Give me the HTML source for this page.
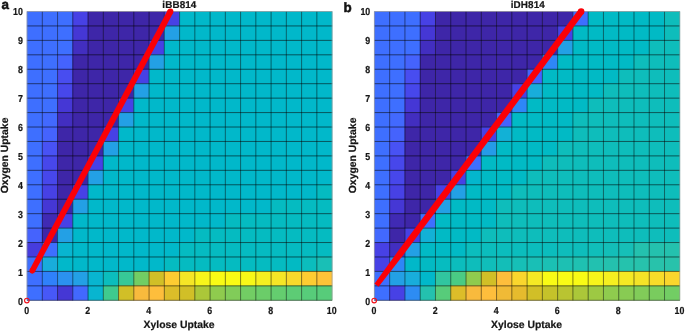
<!DOCTYPE html>
<html lang="en"><head><meta charset="utf-8"><title>Phenotype phase planes</title>
<style>html,body{margin:0;padding:0;background:#fff}body{width:685px;height:331px;overflow:hidden}svg{display:block}text{text-rendering:geometricPrecision;font-family:"Liberation Sans",Arial,sans-serif;font-weight:bold;fill:#151515;stroke:#151515;stroke-width:0.2px}</style></head><body>
<svg width="685" height="331" viewBox="0 0 685 331">
<rect width="685" height="331" fill="#fff"/>
<g>
<rect x="26.80" y="11.25" width="15.75" height="14.94" fill="#3e6fff"/>
<rect x="42.05" y="11.25" width="15.75" height="14.94" fill="#3e6fff"/>
<rect x="57.31" y="11.25" width="15.75" height="14.94" fill="#3e6fff"/>
<rect x="72.56" y="11.25" width="15.75" height="14.94" fill="#4741e5"/>
<rect x="87.81" y="11.25" width="15.75" height="14.94" fill="#3e26a8"/>
<rect x="103.06" y="11.25" width="15.75" height="14.94" fill="#3e26a8"/>
<rect x="118.32" y="11.25" width="15.75" height="14.94" fill="#3e26a8"/>
<rect x="133.57" y="11.25" width="15.75" height="14.94" fill="#3e26a8"/>
<rect x="148.82" y="11.25" width="15.75" height="14.94" fill="#3e26a8"/>
<rect x="164.07" y="11.25" width="15.75" height="14.94" fill="#4741e5"/>
<rect x="179.33" y="11.25" width="15.75" height="14.94" fill="#01b8ca"/>
<rect x="194.58" y="11.25" width="15.75" height="14.94" fill="#01b8ca"/>
<rect x="209.83" y="11.25" width="15.75" height="14.94" fill="#01b8ca"/>
<rect x="225.08" y="11.25" width="15.75" height="14.94" fill="#01b8ca"/>
<rect x="240.34" y="11.25" width="15.75" height="14.94" fill="#01b8ca"/>
<rect x="255.59" y="11.25" width="15.75" height="14.94" fill="#01b8ca"/>
<rect x="270.84" y="11.25" width="15.75" height="14.94" fill="#01b8ca"/>
<rect x="286.09" y="11.25" width="15.75" height="14.94" fill="#01b8ca"/>
<rect x="301.35" y="11.25" width="15.75" height="14.94" fill="#01b8ca"/>
<rect x="316.60" y="11.25" width="15.75" height="14.94" fill="#01b8ca"/>
<rect x="26.80" y="25.69" width="15.75" height="14.94" fill="#3e6fff"/>
<rect x="42.05" y="25.69" width="15.75" height="14.94" fill="#3e6fff"/>
<rect x="57.31" y="25.69" width="15.75" height="14.94" fill="#3e6fff"/>
<rect x="72.56" y="25.69" width="15.75" height="14.94" fill="#4537d5"/>
<rect x="87.81" y="25.69" width="15.75" height="14.94" fill="#3e26a8"/>
<rect x="103.06" y="25.69" width="15.75" height="14.94" fill="#3e26a8"/>
<rect x="118.32" y="25.69" width="15.75" height="14.94" fill="#3e26a8"/>
<rect x="133.57" y="25.69" width="15.75" height="14.94" fill="#3e26a8"/>
<rect x="148.82" y="25.69" width="15.75" height="14.94" fill="#3e26a8"/>
<rect x="164.07" y="25.69" width="15.75" height="14.94" fill="#23a0e5"/>
<rect x="179.33" y="25.69" width="15.75" height="14.94" fill="#01b8ca"/>
<rect x="194.58" y="25.69" width="15.75" height="14.94" fill="#01b8ca"/>
<rect x="209.83" y="25.69" width="15.75" height="14.94" fill="#01b8ca"/>
<rect x="225.08" y="25.69" width="15.75" height="14.94" fill="#01b8ca"/>
<rect x="240.34" y="25.69" width="15.75" height="14.94" fill="#01b8ca"/>
<rect x="255.59" y="25.69" width="15.75" height="14.94" fill="#01b8ca"/>
<rect x="270.84" y="25.69" width="15.75" height="14.94" fill="#01b8ca"/>
<rect x="286.09" y="25.69" width="15.75" height="14.94" fill="#01b8ca"/>
<rect x="301.35" y="25.69" width="15.75" height="14.94" fill="#01b8ca"/>
<rect x="316.60" y="25.69" width="15.75" height="14.94" fill="#01b8ca"/>
<rect x="26.80" y="40.13" width="15.75" height="14.94" fill="#3e6fff"/>
<rect x="42.05" y="40.13" width="15.75" height="14.94" fill="#3e6fff"/>
<rect x="57.31" y="40.13" width="15.75" height="14.94" fill="#3e6fff"/>
<rect x="72.56" y="40.13" width="15.75" height="14.94" fill="#422ec0"/>
<rect x="87.81" y="40.13" width="15.75" height="14.94" fill="#3e26a8"/>
<rect x="103.06" y="40.13" width="15.75" height="14.94" fill="#3e26a8"/>
<rect x="118.32" y="40.13" width="15.75" height="14.94" fill="#3e26a8"/>
<rect x="133.57" y="40.13" width="15.75" height="14.94" fill="#3e26a8"/>
<rect x="148.82" y="40.13" width="15.75" height="14.94" fill="#4741e5"/>
<rect x="164.07" y="40.13" width="15.75" height="14.94" fill="#01b8ca"/>
<rect x="179.33" y="40.13" width="15.75" height="14.94" fill="#01b8ca"/>
<rect x="194.58" y="40.13" width="15.75" height="14.94" fill="#01b8ca"/>
<rect x="209.83" y="40.13" width="15.75" height="14.94" fill="#01b8ca"/>
<rect x="225.08" y="40.13" width="15.75" height="14.94" fill="#01b8ca"/>
<rect x="240.34" y="40.13" width="15.75" height="14.94" fill="#01b8ca"/>
<rect x="255.59" y="40.13" width="15.75" height="14.94" fill="#01b8ca"/>
<rect x="270.84" y="40.13" width="15.75" height="14.94" fill="#01b8ca"/>
<rect x="286.09" y="40.13" width="15.75" height="14.94" fill="#01b8ca"/>
<rect x="301.35" y="40.13" width="15.75" height="14.94" fill="#01b8ca"/>
<rect x="316.60" y="40.13" width="15.75" height="14.94" fill="#01b8ca"/>
<rect x="26.80" y="54.57" width="15.75" height="14.94" fill="#3e6fff"/>
<rect x="42.05" y="54.57" width="15.75" height="14.94" fill="#3e6fff"/>
<rect x="57.31" y="54.57" width="15.75" height="14.94" fill="#4563fd"/>
<rect x="72.56" y="54.57" width="15.75" height="14.94" fill="#3e26a8"/>
<rect x="87.81" y="54.57" width="15.75" height="14.94" fill="#3e26a8"/>
<rect x="103.06" y="54.57" width="15.75" height="14.94" fill="#3e26a8"/>
<rect x="118.32" y="54.57" width="15.75" height="14.94" fill="#3e26a8"/>
<rect x="133.57" y="54.57" width="15.75" height="14.94" fill="#3e26a8"/>
<rect x="148.82" y="54.57" width="15.75" height="14.94" fill="#23a0e5"/>
<rect x="164.07" y="54.57" width="15.75" height="14.94" fill="#01b8ca"/>
<rect x="179.33" y="54.57" width="15.75" height="14.94" fill="#01b8ca"/>
<rect x="194.58" y="54.57" width="15.75" height="14.94" fill="#01b8ca"/>
<rect x="209.83" y="54.57" width="15.75" height="14.94" fill="#01b8ca"/>
<rect x="225.08" y="54.57" width="15.75" height="14.94" fill="#01b8ca"/>
<rect x="240.34" y="54.57" width="15.75" height="14.94" fill="#01b8ca"/>
<rect x="255.59" y="54.57" width="15.75" height="14.94" fill="#01b8ca"/>
<rect x="270.84" y="54.57" width="15.75" height="14.94" fill="#01b8ca"/>
<rect x="286.09" y="54.57" width="15.75" height="14.94" fill="#01b8ca"/>
<rect x="301.35" y="54.57" width="15.75" height="14.94" fill="#01b8ca"/>
<rect x="316.60" y="54.57" width="15.75" height="14.94" fill="#01b8ca"/>
<rect x="26.80" y="69.01" width="15.75" height="14.94" fill="#3e6fff"/>
<rect x="42.05" y="69.01" width="15.75" height="14.94" fill="#3e6fff"/>
<rect x="57.31" y="69.01" width="15.75" height="14.94" fill="#484df0"/>
<rect x="72.56" y="69.01" width="15.75" height="14.94" fill="#3e26a8"/>
<rect x="87.81" y="69.01" width="15.75" height="14.94" fill="#3e26a8"/>
<rect x="103.06" y="69.01" width="15.75" height="14.94" fill="#3e26a8"/>
<rect x="118.32" y="69.01" width="15.75" height="14.94" fill="#3e26a8"/>
<rect x="133.57" y="69.01" width="15.75" height="14.94" fill="#4741e5"/>
<rect x="148.82" y="69.01" width="15.75" height="14.94" fill="#01b8ca"/>
<rect x="164.07" y="69.01" width="15.75" height="14.94" fill="#01b8ca"/>
<rect x="179.33" y="69.01" width="15.75" height="14.94" fill="#01b8ca"/>
<rect x="194.58" y="69.01" width="15.75" height="14.94" fill="#01b8ca"/>
<rect x="209.83" y="69.01" width="15.75" height="14.94" fill="#01b8ca"/>
<rect x="225.08" y="69.01" width="15.75" height="14.94" fill="#01b8ca"/>
<rect x="240.34" y="69.01" width="15.75" height="14.94" fill="#01b8ca"/>
<rect x="255.59" y="69.01" width="15.75" height="14.94" fill="#01b8ca"/>
<rect x="270.84" y="69.01" width="15.75" height="14.94" fill="#01b8ca"/>
<rect x="286.09" y="69.01" width="15.75" height="14.94" fill="#01b8ca"/>
<rect x="301.35" y="69.01" width="15.75" height="14.94" fill="#01b8ca"/>
<rect x="316.60" y="69.01" width="15.75" height="14.94" fill="#01b8ca"/>
<rect x="26.80" y="83.45" width="15.75" height="14.94" fill="#3e6fff"/>
<rect x="42.05" y="83.45" width="15.75" height="14.94" fill="#3e6fff"/>
<rect x="57.31" y="83.45" width="15.75" height="14.94" fill="#4747eb"/>
<rect x="72.56" y="83.45" width="15.75" height="14.94" fill="#3e26a8"/>
<rect x="87.81" y="83.45" width="15.75" height="14.94" fill="#3e26a8"/>
<rect x="103.06" y="83.45" width="15.75" height="14.94" fill="#3e26a8"/>
<rect x="118.32" y="83.45" width="15.75" height="14.94" fill="#3e26a8"/>
<rect x="133.57" y="83.45" width="15.75" height="14.94" fill="#23a0e5"/>
<rect x="148.82" y="83.45" width="15.75" height="14.94" fill="#01b8ca"/>
<rect x="164.07" y="83.45" width="15.75" height="14.94" fill="#01b8ca"/>
<rect x="179.33" y="83.45" width="15.75" height="14.94" fill="#01b8ca"/>
<rect x="194.58" y="83.45" width="15.75" height="14.94" fill="#01b8ca"/>
<rect x="209.83" y="83.45" width="15.75" height="14.94" fill="#01b8ca"/>
<rect x="225.08" y="83.45" width="15.75" height="14.94" fill="#01b8ca"/>
<rect x="240.34" y="83.45" width="15.75" height="14.94" fill="#01b8ca"/>
<rect x="255.59" y="83.45" width="15.75" height="14.94" fill="#01b8ca"/>
<rect x="270.84" y="83.45" width="15.75" height="14.94" fill="#01b8ca"/>
<rect x="286.09" y="83.45" width="15.75" height="14.94" fill="#01b8ca"/>
<rect x="301.35" y="83.45" width="15.75" height="14.94" fill="#01b8ca"/>
<rect x="316.60" y="83.45" width="15.75" height="14.94" fill="#01b8ca"/>
<rect x="26.80" y="97.89" width="15.75" height="14.94" fill="#3e6fff"/>
<rect x="42.05" y="97.89" width="15.75" height="14.94" fill="#3e6fff"/>
<rect x="57.31" y="97.89" width="15.75" height="14.94" fill="#4537d5"/>
<rect x="72.56" y="97.89" width="15.75" height="14.94" fill="#3e26a8"/>
<rect x="87.81" y="97.89" width="15.75" height="14.94" fill="#3e26a8"/>
<rect x="103.06" y="97.89" width="15.75" height="14.94" fill="#3e26a8"/>
<rect x="118.32" y="97.89" width="15.75" height="14.94" fill="#4741e5"/>
<rect x="133.57" y="97.89" width="15.75" height="14.94" fill="#01b8ca"/>
<rect x="148.82" y="97.89" width="15.75" height="14.94" fill="#01b8ca"/>
<rect x="164.07" y="97.89" width="15.75" height="14.94" fill="#01b8ca"/>
<rect x="179.33" y="97.89" width="15.75" height="14.94" fill="#01b8ca"/>
<rect x="194.58" y="97.89" width="15.75" height="14.94" fill="#01b8ca"/>
<rect x="209.83" y="97.89" width="15.75" height="14.94" fill="#01b8ca"/>
<rect x="225.08" y="97.89" width="15.75" height="14.94" fill="#01b8ca"/>
<rect x="240.34" y="97.89" width="15.75" height="14.94" fill="#01b8ca"/>
<rect x="255.59" y="97.89" width="15.75" height="14.94" fill="#01b8ca"/>
<rect x="270.84" y="97.89" width="15.75" height="14.94" fill="#01b8ca"/>
<rect x="286.09" y="97.89" width="15.75" height="14.94" fill="#01b8ca"/>
<rect x="301.35" y="97.89" width="15.75" height="14.94" fill="#01b8ca"/>
<rect x="316.60" y="97.89" width="15.75" height="14.94" fill="#01b8ca"/>
<rect x="26.80" y="112.33" width="15.75" height="14.94" fill="#3e6fff"/>
<rect x="42.05" y="112.33" width="15.75" height="14.94" fill="#4269fe"/>
<rect x="57.31" y="112.33" width="15.75" height="14.94" fill="#422ec0"/>
<rect x="72.56" y="112.33" width="15.75" height="14.94" fill="#3e26a8"/>
<rect x="87.81" y="112.33" width="15.75" height="14.94" fill="#3e26a8"/>
<rect x="103.06" y="112.33" width="15.75" height="14.94" fill="#3e26a8"/>
<rect x="118.32" y="112.33" width="15.75" height="14.94" fill="#23a0e5"/>
<rect x="133.57" y="112.33" width="15.75" height="14.94" fill="#01b8ca"/>
<rect x="148.82" y="112.33" width="15.75" height="14.94" fill="#01b8ca"/>
<rect x="164.07" y="112.33" width="15.75" height="14.94" fill="#01b8ca"/>
<rect x="179.33" y="112.33" width="15.75" height="14.94" fill="#01b8ca"/>
<rect x="194.58" y="112.33" width="15.75" height="14.94" fill="#01b8ca"/>
<rect x="209.83" y="112.33" width="15.75" height="14.94" fill="#01b8ca"/>
<rect x="225.08" y="112.33" width="15.75" height="14.94" fill="#01b8ca"/>
<rect x="240.34" y="112.33" width="15.75" height="14.94" fill="#01b8ca"/>
<rect x="255.59" y="112.33" width="15.75" height="14.94" fill="#01b8ca"/>
<rect x="270.84" y="112.33" width="15.75" height="14.94" fill="#01b8ca"/>
<rect x="286.09" y="112.33" width="15.75" height="14.94" fill="#01b8ca"/>
<rect x="301.35" y="112.33" width="15.75" height="14.94" fill="#01b8ca"/>
<rect x="316.60" y="112.33" width="15.75" height="14.94" fill="#01b8ca"/>
<rect x="26.80" y="126.77" width="15.75" height="14.94" fill="#3e6fff"/>
<rect x="42.05" y="126.77" width="15.75" height="14.94" fill="#4563fd"/>
<rect x="57.31" y="126.77" width="15.75" height="14.94" fill="#3e26a8"/>
<rect x="72.56" y="126.77" width="15.75" height="14.94" fill="#3e26a8"/>
<rect x="87.81" y="126.77" width="15.75" height="14.94" fill="#3e26a8"/>
<rect x="103.06" y="126.77" width="15.75" height="14.94" fill="#4741e5"/>
<rect x="118.32" y="126.77" width="15.75" height="14.94" fill="#01b8ca"/>
<rect x="133.57" y="126.77" width="15.75" height="14.94" fill="#01b8ca"/>
<rect x="148.82" y="126.77" width="15.75" height="14.94" fill="#01b8ca"/>
<rect x="164.07" y="126.77" width="15.75" height="14.94" fill="#01b8ca"/>
<rect x="179.33" y="126.77" width="15.75" height="14.94" fill="#01b8ca"/>
<rect x="194.58" y="126.77" width="15.75" height="14.94" fill="#01b8ca"/>
<rect x="209.83" y="126.77" width="15.75" height="14.94" fill="#01b8ca"/>
<rect x="225.08" y="126.77" width="15.75" height="14.94" fill="#01b8ca"/>
<rect x="240.34" y="126.77" width="15.75" height="14.94" fill="#01b8ca"/>
<rect x="255.59" y="126.77" width="15.75" height="14.94" fill="#01b8ca"/>
<rect x="270.84" y="126.77" width="15.75" height="14.94" fill="#01b8ca"/>
<rect x="286.09" y="126.77" width="15.75" height="14.94" fill="#01b8ca"/>
<rect x="301.35" y="126.77" width="15.75" height="14.94" fill="#01b8ca"/>
<rect x="316.60" y="126.77" width="15.75" height="14.94" fill="#01b8ca"/>
<rect x="26.80" y="141.21" width="15.75" height="14.94" fill="#3e6fff"/>
<rect x="42.05" y="141.21" width="15.75" height="14.94" fill="#4852f4"/>
<rect x="57.31" y="141.21" width="15.75" height="14.94" fill="#3e26a8"/>
<rect x="72.56" y="141.21" width="15.75" height="14.94" fill="#3e26a8"/>
<rect x="87.81" y="141.21" width="15.75" height="14.94" fill="#3e26a8"/>
<rect x="103.06" y="141.21" width="15.75" height="14.94" fill="#23a0e5"/>
<rect x="118.32" y="141.21" width="15.75" height="14.94" fill="#01b8ca"/>
<rect x="133.57" y="141.21" width="15.75" height="14.94" fill="#01b8ca"/>
<rect x="148.82" y="141.21" width="15.75" height="14.94" fill="#01b8ca"/>
<rect x="164.07" y="141.21" width="15.75" height="14.94" fill="#01b8ca"/>
<rect x="179.33" y="141.21" width="15.75" height="14.94" fill="#01b8ca"/>
<rect x="194.58" y="141.21" width="15.75" height="14.94" fill="#01b8ca"/>
<rect x="209.83" y="141.21" width="15.75" height="14.94" fill="#01b8ca"/>
<rect x="225.08" y="141.21" width="15.75" height="14.94" fill="#01b8ca"/>
<rect x="240.34" y="141.21" width="15.75" height="14.94" fill="#01b8ca"/>
<rect x="255.59" y="141.21" width="15.75" height="14.94" fill="#01b8ca"/>
<rect x="270.84" y="141.21" width="15.75" height="14.94" fill="#01b8ca"/>
<rect x="286.09" y="141.21" width="15.75" height="14.94" fill="#01b8ca"/>
<rect x="301.35" y="141.21" width="15.75" height="14.94" fill="#01b8ca"/>
<rect x="316.60" y="141.21" width="15.75" height="14.94" fill="#01b8ca"/>
<rect x="26.80" y="155.65" width="15.75" height="14.94" fill="#3e6fff"/>
<rect x="42.05" y="155.65" width="15.75" height="14.94" fill="#4747eb"/>
<rect x="57.31" y="155.65" width="15.75" height="14.94" fill="#3e26a8"/>
<rect x="72.56" y="155.65" width="15.75" height="14.94" fill="#3e26a8"/>
<rect x="87.81" y="155.65" width="15.75" height="14.94" fill="#4741e5"/>
<rect x="103.06" y="155.65" width="15.75" height="14.94" fill="#01b8ca"/>
<rect x="118.32" y="155.65" width="15.75" height="14.94" fill="#01b8ca"/>
<rect x="133.57" y="155.65" width="15.75" height="14.94" fill="#01b8ca"/>
<rect x="148.82" y="155.65" width="15.75" height="14.94" fill="#01b8ca"/>
<rect x="164.07" y="155.65" width="15.75" height="14.94" fill="#01b8ca"/>
<rect x="179.33" y="155.65" width="15.75" height="14.94" fill="#01b8ca"/>
<rect x="194.58" y="155.65" width="15.75" height="14.94" fill="#01b8ca"/>
<rect x="209.83" y="155.65" width="15.75" height="14.94" fill="#01b8ca"/>
<rect x="225.08" y="155.65" width="15.75" height="14.94" fill="#01b8ca"/>
<rect x="240.34" y="155.65" width="15.75" height="14.94" fill="#01b8ca"/>
<rect x="255.59" y="155.65" width="15.75" height="14.94" fill="#01b8ca"/>
<rect x="270.84" y="155.65" width="15.75" height="14.94" fill="#01b8ca"/>
<rect x="286.09" y="155.65" width="15.75" height="14.94" fill="#01b8ca"/>
<rect x="301.35" y="155.65" width="15.75" height="14.94" fill="#01b8ca"/>
<rect x="316.60" y="155.65" width="15.75" height="14.94" fill="#01b8ca"/>
<rect x="26.80" y="170.09" width="15.75" height="14.94" fill="#3e6fff"/>
<rect x="42.05" y="170.09" width="15.75" height="14.94" fill="#4747eb"/>
<rect x="57.31" y="170.09" width="15.75" height="14.94" fill="#3e26a8"/>
<rect x="72.56" y="170.09" width="15.75" height="14.94" fill="#3e26a8"/>
<rect x="87.81" y="170.09" width="15.75" height="14.94" fill="#23a0e5"/>
<rect x="103.06" y="170.09" width="15.75" height="14.94" fill="#01b8ca"/>
<rect x="118.32" y="170.09" width="15.75" height="14.94" fill="#01b8ca"/>
<rect x="133.57" y="170.09" width="15.75" height="14.94" fill="#01b8ca"/>
<rect x="148.82" y="170.09" width="15.75" height="14.94" fill="#01b8ca"/>
<rect x="164.07" y="170.09" width="15.75" height="14.94" fill="#01b8ca"/>
<rect x="179.33" y="170.09" width="15.75" height="14.94" fill="#01b8ca"/>
<rect x="194.58" y="170.09" width="15.75" height="14.94" fill="#01b8ca"/>
<rect x="209.83" y="170.09" width="15.75" height="14.94" fill="#01b8ca"/>
<rect x="225.08" y="170.09" width="15.75" height="14.94" fill="#01b8ca"/>
<rect x="240.34" y="170.09" width="15.75" height="14.94" fill="#01b8ca"/>
<rect x="255.59" y="170.09" width="15.75" height="14.94" fill="#01b8ca"/>
<rect x="270.84" y="170.09" width="15.75" height="14.94" fill="#01b8ca"/>
<rect x="286.09" y="170.09" width="15.75" height="14.94" fill="#01b8ca"/>
<rect x="301.35" y="170.09" width="15.75" height="14.94" fill="#01b8ca"/>
<rect x="316.60" y="170.09" width="15.75" height="14.94" fill="#01b8ca"/>
<rect x="26.80" y="184.53" width="15.75" height="14.94" fill="#3e6fff"/>
<rect x="42.05" y="184.53" width="15.75" height="14.94" fill="#4741e5"/>
<rect x="57.31" y="184.53" width="15.75" height="14.94" fill="#3e26a8"/>
<rect x="72.56" y="184.53" width="15.75" height="14.94" fill="#4741e5"/>
<rect x="87.81" y="184.53" width="15.75" height="14.94" fill="#01b8ca"/>
<rect x="103.06" y="184.53" width="15.75" height="14.94" fill="#01b8ca"/>
<rect x="118.32" y="184.53" width="15.75" height="14.94" fill="#01b8ca"/>
<rect x="133.57" y="184.53" width="15.75" height="14.94" fill="#01b8ca"/>
<rect x="148.82" y="184.53" width="15.75" height="14.94" fill="#01b8ca"/>
<rect x="164.07" y="184.53" width="15.75" height="14.94" fill="#01b8ca"/>
<rect x="179.33" y="184.53" width="15.75" height="14.94" fill="#01b8ca"/>
<rect x="194.58" y="184.53" width="15.75" height="14.94" fill="#01b8ca"/>
<rect x="209.83" y="184.53" width="15.75" height="14.94" fill="#01b8ca"/>
<rect x="225.08" y="184.53" width="15.75" height="14.94" fill="#01b8ca"/>
<rect x="240.34" y="184.53" width="15.75" height="14.94" fill="#01b8ca"/>
<rect x="255.59" y="184.53" width="15.75" height="14.94" fill="#01b8ca"/>
<rect x="270.84" y="184.53" width="15.75" height="14.94" fill="#01b8ca"/>
<rect x="286.09" y="184.53" width="15.75" height="14.94" fill="#01b8ca"/>
<rect x="301.35" y="184.53" width="15.75" height="14.94" fill="#01b8ca"/>
<rect x="316.60" y="184.53" width="15.75" height="14.94" fill="#05bbc1"/>
<rect x="26.80" y="198.97" width="15.75" height="14.94" fill="#3e6fff"/>
<rect x="42.05" y="198.97" width="15.75" height="14.94" fill="#4537d5"/>
<rect x="57.31" y="198.97" width="15.75" height="14.94" fill="#3e26a8"/>
<rect x="72.56" y="198.97" width="15.75" height="14.94" fill="#23a0e5"/>
<rect x="87.81" y="198.97" width="15.75" height="14.94" fill="#01b8ca"/>
<rect x="103.06" y="198.97" width="15.75" height="14.94" fill="#01b8ca"/>
<rect x="118.32" y="198.97" width="15.75" height="14.94" fill="#01b8ca"/>
<rect x="133.57" y="198.97" width="15.75" height="14.94" fill="#01b8ca"/>
<rect x="148.82" y="198.97" width="15.75" height="14.94" fill="#01b8ca"/>
<rect x="164.07" y="198.97" width="15.75" height="14.94" fill="#01b8ca"/>
<rect x="179.33" y="198.97" width="15.75" height="14.94" fill="#01b8ca"/>
<rect x="194.58" y="198.97" width="15.75" height="14.94" fill="#01b8ca"/>
<rect x="209.83" y="198.97" width="15.75" height="14.94" fill="#01b8ca"/>
<rect x="225.08" y="198.97" width="15.75" height="14.94" fill="#01b8ca"/>
<rect x="240.34" y="198.97" width="15.75" height="14.94" fill="#01b8ca"/>
<rect x="255.59" y="198.97" width="15.75" height="14.94" fill="#01b8ca"/>
<rect x="270.84" y="198.97" width="15.75" height="14.94" fill="#05bbc1"/>
<rect x="286.09" y="198.97" width="15.75" height="14.94" fill="#05bbc1"/>
<rect x="301.35" y="198.97" width="15.75" height="14.94" fill="#05bbc1"/>
<rect x="316.60" y="198.97" width="15.75" height="14.94" fill="#05bbc1"/>
<rect x="26.80" y="213.41" width="15.75" height="14.94" fill="#3e6fff"/>
<rect x="42.05" y="213.41" width="15.75" height="14.94" fill="#402ab4"/>
<rect x="57.31" y="213.41" width="15.75" height="14.94" fill="#4741e5"/>
<rect x="72.56" y="213.41" width="15.75" height="14.94" fill="#01b8ca"/>
<rect x="87.81" y="213.41" width="15.75" height="14.94" fill="#01b8ca"/>
<rect x="103.06" y="213.41" width="15.75" height="14.94" fill="#01b8ca"/>
<rect x="118.32" y="213.41" width="15.75" height="14.94" fill="#01b8ca"/>
<rect x="133.57" y="213.41" width="15.75" height="14.94" fill="#01b8ca"/>
<rect x="148.82" y="213.41" width="15.75" height="14.94" fill="#01b8ca"/>
<rect x="164.07" y="213.41" width="15.75" height="14.94" fill="#01b8ca"/>
<rect x="179.33" y="213.41" width="15.75" height="14.94" fill="#01b8ca"/>
<rect x="194.58" y="213.41" width="15.75" height="14.94" fill="#01b8ca"/>
<rect x="209.83" y="213.41" width="15.75" height="14.94" fill="#01b8ca"/>
<rect x="225.08" y="213.41" width="15.75" height="14.94" fill="#05bbc1"/>
<rect x="240.34" y="213.41" width="15.75" height="14.94" fill="#05bbc1"/>
<rect x="255.59" y="213.41" width="15.75" height="14.94" fill="#05bbc1"/>
<rect x="270.84" y="213.41" width="15.75" height="14.94" fill="#05bbc1"/>
<rect x="286.09" y="213.41" width="15.75" height="14.94" fill="#05bbc1"/>
<rect x="301.35" y="213.41" width="15.75" height="14.94" fill="#05bbc1"/>
<rect x="316.60" y="213.41" width="15.75" height="14.94" fill="#05bbc1"/>
<rect x="26.80" y="227.85" width="15.75" height="14.94" fill="#4563fd"/>
<rect x="42.05" y="227.85" width="15.75" height="14.94" fill="#3e26a8"/>
<rect x="57.31" y="227.85" width="15.75" height="14.94" fill="#23a0e5"/>
<rect x="72.56" y="227.85" width="15.75" height="14.94" fill="#01b8ca"/>
<rect x="87.81" y="227.85" width="15.75" height="14.94" fill="#01b8ca"/>
<rect x="103.06" y="227.85" width="15.75" height="14.94" fill="#01b8ca"/>
<rect x="118.32" y="227.85" width="15.75" height="14.94" fill="#01b8ca"/>
<rect x="133.57" y="227.85" width="15.75" height="14.94" fill="#01b8ca"/>
<rect x="148.82" y="227.85" width="15.75" height="14.94" fill="#01b8ca"/>
<rect x="164.07" y="227.85" width="15.75" height="14.94" fill="#01b8ca"/>
<rect x="179.33" y="227.85" width="15.75" height="14.94" fill="#01b8ca"/>
<rect x="194.58" y="227.85" width="15.75" height="14.94" fill="#05bbc1"/>
<rect x="209.83" y="227.85" width="15.75" height="14.94" fill="#05bbc1"/>
<rect x="225.08" y="227.85" width="15.75" height="14.94" fill="#05bbc1"/>
<rect x="240.34" y="227.85" width="15.75" height="14.94" fill="#05bbc1"/>
<rect x="255.59" y="227.85" width="15.75" height="14.94" fill="#05bbc1"/>
<rect x="270.84" y="227.85" width="15.75" height="14.94" fill="#05bbc1"/>
<rect x="286.09" y="227.85" width="15.75" height="14.94" fill="#05bbc1"/>
<rect x="301.35" y="227.85" width="15.75" height="14.94" fill="#05bbc1"/>
<rect x="316.60" y="227.85" width="15.75" height="14.94" fill="#05bbc1"/>
<rect x="26.80" y="242.29" width="15.75" height="14.94" fill="#463cde"/>
<rect x="42.05" y="242.29" width="15.75" height="14.94" fill="#3e6fff"/>
<rect x="57.31" y="242.29" width="15.75" height="14.94" fill="#08b5d0"/>
<rect x="72.56" y="242.29" width="15.75" height="14.94" fill="#01b8ca"/>
<rect x="87.81" y="242.29" width="15.75" height="14.94" fill="#01b8ca"/>
<rect x="103.06" y="242.29" width="15.75" height="14.94" fill="#01b8ca"/>
<rect x="118.32" y="242.29" width="15.75" height="14.94" fill="#01b8ca"/>
<rect x="133.57" y="242.29" width="15.75" height="14.94" fill="#01b8ca"/>
<rect x="148.82" y="242.29" width="15.75" height="14.94" fill="#01b8ca"/>
<rect x="164.07" y="242.29" width="15.75" height="14.94" fill="#01b8ca"/>
<rect x="179.33" y="242.29" width="15.75" height="14.94" fill="#05bbc1"/>
<rect x="194.58" y="242.29" width="15.75" height="14.94" fill="#05bbc1"/>
<rect x="209.83" y="242.29" width="15.75" height="14.94" fill="#05bbc1"/>
<rect x="225.08" y="242.29" width="15.75" height="14.94" fill="#05bbc1"/>
<rect x="240.34" y="242.29" width="15.75" height="14.94" fill="#05bbc1"/>
<rect x="255.59" y="242.29" width="15.75" height="14.94" fill="#05bbc1"/>
<rect x="270.84" y="242.29" width="15.75" height="14.94" fill="#05bbc1"/>
<rect x="286.09" y="242.29" width="15.75" height="14.94" fill="#05bbc1"/>
<rect x="301.35" y="242.29" width="15.75" height="14.94" fill="#05bbc1"/>
<rect x="316.60" y="242.29" width="15.75" height="14.94" fill="#05bbc1"/>
<rect x="26.80" y="256.73" width="15.75" height="14.94" fill="#3e6fff"/>
<rect x="42.05" y="256.73" width="15.75" height="14.94" fill="#18addb"/>
<rect x="57.31" y="256.73" width="15.75" height="14.94" fill="#01b8ca"/>
<rect x="72.56" y="256.73" width="15.75" height="14.94" fill="#01b8ca"/>
<rect x="87.81" y="256.73" width="15.75" height="14.94" fill="#01b8ca"/>
<rect x="103.06" y="256.73" width="15.75" height="14.94" fill="#01b8ca"/>
<rect x="118.32" y="256.73" width="15.75" height="14.94" fill="#01b8ca"/>
<rect x="133.57" y="256.73" width="15.75" height="14.94" fill="#01b8ca"/>
<rect x="148.82" y="256.73" width="15.75" height="14.94" fill="#01b8ca"/>
<rect x="164.07" y="256.73" width="15.75" height="14.94" fill="#05bbc1"/>
<rect x="179.33" y="256.73" width="15.75" height="14.94" fill="#05bbc1"/>
<rect x="194.58" y="256.73" width="15.75" height="14.94" fill="#05bbc1"/>
<rect x="209.83" y="256.73" width="15.75" height="14.94" fill="#05bbc1"/>
<rect x="225.08" y="256.73" width="15.75" height="14.94" fill="#05bbc1"/>
<rect x="240.34" y="256.73" width="15.75" height="14.94" fill="#05bbc1"/>
<rect x="255.59" y="256.73" width="15.75" height="14.94" fill="#05bbc1"/>
<rect x="270.84" y="256.73" width="15.75" height="14.94" fill="#05bbc1"/>
<rect x="286.09" y="256.73" width="15.75" height="14.94" fill="#02bac3"/>
<rect x="301.35" y="256.73" width="15.75" height="14.94" fill="#0bbdbd"/>
<rect x="316.60" y="256.73" width="15.75" height="14.94" fill="#19bfb6"/>
<rect x="26.80" y="271.17" width="15.75" height="14.94" fill="#3e6fff"/>
<rect x="42.05" y="271.17" width="15.75" height="14.94" fill="#2f81fa"/>
<rect x="57.31" y="271.17" width="15.75" height="14.94" fill="#2b91ef"/>
<rect x="72.56" y="271.17" width="15.75" height="14.94" fill="#23a0e5"/>
<rect x="87.81" y="271.17" width="15.75" height="14.94" fill="#08b5d0"/>
<rect x="103.06" y="271.17" width="15.75" height="14.94" fill="#0bbdbd"/>
<rect x="118.32" y="271.17" width="15.75" height="14.94" fill="#37c897"/>
<rect x="133.57" y="271.17" width="15.75" height="14.94" fill="#72cd64"/>
<rect x="148.82" y="271.17" width="15.75" height="14.94" fill="#d1bf27"/>
<rect x="164.07" y="271.17" width="15.75" height="14.94" fill="#fdcc32"/>
<rect x="179.33" y="271.17" width="15.75" height="14.94" fill="#f5e626"/>
<rect x="194.58" y="271.17" width="15.75" height="14.94" fill="#f7f51b"/>
<rect x="209.83" y="271.17" width="15.75" height="14.94" fill="#f9fb15"/>
<rect x="225.08" y="271.17" width="15.75" height="14.94" fill="#f9fb15"/>
<rect x="240.34" y="271.17" width="15.75" height="14.94" fill="#f8f818"/>
<rect x="255.59" y="271.17" width="15.75" height="14.94" fill="#f6ef20"/>
<rect x="270.84" y="271.17" width="15.75" height="14.94" fill="#f5e626"/>
<rect x="286.09" y="271.17" width="15.75" height="14.94" fill="#f8d92b"/>
<rect x="301.35" y="271.17" width="15.75" height="14.94" fill="#fdcc32"/>
<rect x="316.60" y="271.17" width="15.75" height="14.94" fill="#fec338"/>
<rect x="26.80" y="285.61" width="15.75" height="14.94" fill="#3e6fff"/>
<rect x="42.05" y="285.61" width="15.75" height="14.94" fill="#4758f8"/>
<rect x="57.31" y="285.61" width="15.75" height="14.94" fill="#4537d5"/>
<rect x="72.56" y="285.61" width="15.75" height="14.94" fill="#4269fe"/>
<rect x="87.81" y="285.61" width="15.75" height="14.94" fill="#08b5d0"/>
<rect x="103.06" y="285.61" width="15.75" height="14.94" fill="#3fca8e"/>
<rect x="118.32" y="285.61" width="15.75" height="14.94" fill="#d1bf27"/>
<rect x="133.57" y="285.61" width="15.75" height="14.94" fill="#f8ba3d"/>
<rect x="148.82" y="285.61" width="15.75" height="14.94" fill="#febe3c"/>
<rect x="164.07" y="285.61" width="15.75" height="14.94" fill="#dcbd29"/>
<rect x="179.33" y="285.61" width="15.75" height="14.94" fill="#d1bf27"/>
<rect x="194.58" y="285.61" width="15.75" height="14.94" fill="#abc739"/>
<rect x="209.83" y="285.61" width="15.75" height="14.94" fill="#8fcb4e"/>
<rect x="225.08" y="285.61" width="15.75" height="14.94" fill="#81cc59"/>
<rect x="240.34" y="285.61" width="15.75" height="14.94" fill="#72cd64"/>
<rect x="255.59" y="285.61" width="15.75" height="14.94" fill="#6bcd69"/>
<rect x="270.84" y="285.61" width="15.75" height="14.94" fill="#64cd6f"/>
<rect x="286.09" y="285.61" width="15.75" height="14.94" fill="#5dcc75"/>
<rect x="301.35" y="285.61" width="15.75" height="14.94" fill="#57cc7a"/>
<rect x="316.60" y="285.61" width="15.75" height="14.94" fill="#57cc7a"/>
</g>
<path d="M42.30 11.50V300.30M57.56 11.50V300.30M72.81 11.50V300.30M88.06 11.50V300.30M103.31 11.50V300.30M118.57 11.50V300.30M133.82 11.50V300.30M149.07 11.50V300.30M164.32 11.50V300.30M179.58 11.50V300.30M194.83 11.50V300.30M210.08 11.50V300.30M225.33 11.50V300.30M240.59 11.50V300.30M255.84 11.50V300.30M271.09 11.50V300.30M286.34 11.50V300.30M301.60 11.50V300.30M316.85 11.50V300.30" stroke="#000" stroke-opacity="0.48" stroke-width="1.0" fill="none"/>
<path d="M27.05 25.94H332.10M27.05 40.38H332.10M27.05 54.82H332.10M27.05 69.26H332.10M27.05 83.70H332.10M27.05 98.14H332.10M27.05 112.58H332.10M27.05 127.02H332.10M27.05 141.46H332.10M27.05 155.90H332.10M27.05 170.34H332.10M27.05 184.78H332.10M27.05 199.22H332.10M27.05 213.66H332.10M27.05 228.10H332.10M27.05 242.54H332.10M27.05 256.98H332.10M27.05 271.42H332.10M27.05 285.86H332.10" stroke="#000" stroke-opacity="0.55" stroke-width="1.0" fill="none"/>
<path d="M27.05 300.30V11.50H332.10V300.30" stroke="#9a9a9a" stroke-width="0.7" fill="none"/>
<path d="M27.05 300.30H332.10" stroke="#111" stroke-width="0.8" fill="none" stroke-opacity="0.65"/>
<polygon points="34.71,272.16 53.69,236.95 173.07,12.91 167.78,10.09 48.40,234.13 29.76,269.53" fill="#fb0007"/>
<circle cx="170.42" cy="11.50" r="3.00" fill="#fb0007"/>
<circle cx="32.24" cy="270.84" r="2.80" fill="#fb0007"/>
<circle cx="26.85" cy="300.60" r="2.3" fill="none" stroke="#f0101a" stroke-width="1.1"/>
<text transform="translate(22.85 304.70) scale(0.94 1.08)" font-size="9.4" text-anchor="end">0</text>
<text transform="translate(22.85 275.73) scale(0.94 1.08)" font-size="9.4" text-anchor="end">1</text>
<text transform="translate(22.85 246.76) scale(0.94 1.08)" font-size="9.4" text-anchor="end">2</text>
<text transform="translate(22.85 217.79) scale(0.94 1.08)" font-size="9.4" text-anchor="end">3</text>
<text transform="translate(22.85 188.82) scale(0.94 1.08)" font-size="9.4" text-anchor="end">4</text>
<text transform="translate(22.85 159.85) scale(0.94 1.08)" font-size="9.4" text-anchor="end">5</text>
<text transform="translate(22.85 130.88) scale(0.94 1.08)" font-size="9.4" text-anchor="end">6</text>
<text transform="translate(22.85 101.91) scale(0.94 1.08)" font-size="9.4" text-anchor="end">7</text>
<text transform="translate(22.85 72.94) scale(0.94 1.08)" font-size="9.4" text-anchor="end">8</text>
<text transform="translate(22.85 43.97) scale(0.94 1.08)" font-size="9.4" text-anchor="end">9</text>
<text transform="translate(22.85 15.00) scale(0.94 1.08)" font-size="9.4" text-anchor="end">10</text>
<text transform="translate(26.65 314.2) scale(0.94 1.08)" font-size="9.4" text-anchor="middle">0</text>
<text transform="translate(87.66 314.2) scale(0.94 1.08)" font-size="9.4" text-anchor="middle">2</text>
<text transform="translate(148.67 314.2) scale(0.94 1.08)" font-size="9.4" text-anchor="middle">4</text>
<text transform="translate(209.68 314.2) scale(0.94 1.08)" font-size="9.4" text-anchor="middle">6</text>
<text transform="translate(270.69 314.2) scale(0.94 1.08)" font-size="9.4" text-anchor="middle">8</text>
<text transform="translate(331.70 314.2) scale(0.94 1.08)" font-size="9.4" text-anchor="middle">10</text>
<text x="179.08" y="327.9" font-size="10.4" text-anchor="middle">Xylose Uptake</text>
<text transform="translate(8.45 155.40) rotate(-90)" font-size="10.4" text-anchor="middle">Oxygen Uptake</text>
<text x="179.38" y="8.1" font-size="9.9" letter-spacing="0.1" text-anchor="middle">iBB814</text>
<g>
<rect x="374.15" y="11.25" width="15.77" height="14.94" fill="#3e6fff"/>
<rect x="389.42" y="11.25" width="15.77" height="14.94" fill="#3e6fff"/>
<rect x="404.69" y="11.25" width="15.77" height="14.94" fill="#3e6fff"/>
<rect x="419.96" y="11.25" width="15.77" height="14.94" fill="#4741e5"/>
<rect x="435.23" y="11.25" width="15.77" height="14.94" fill="#3e26a8"/>
<rect x="450.50" y="11.25" width="15.77" height="14.94" fill="#3e26a8"/>
<rect x="465.77" y="11.25" width="15.77" height="14.94" fill="#3e26a8"/>
<rect x="481.04" y="11.25" width="15.77" height="14.94" fill="#3e26a8"/>
<rect x="496.31" y="11.25" width="15.77" height="14.94" fill="#3e26a8"/>
<rect x="511.58" y="11.25" width="15.77" height="14.94" fill="#3e26a8"/>
<rect x="526.85" y="11.25" width="15.77" height="14.94" fill="#3e26a8"/>
<rect x="542.12" y="11.25" width="15.77" height="14.94" fill="#3e26a8"/>
<rect x="557.39" y="11.25" width="15.77" height="14.94" fill="#3e26a8"/>
<rect x="572.66" y="11.25" width="15.77" height="14.94" fill="#3e6fff"/>
<rect x="587.93" y="11.25" width="15.77" height="14.94" fill="#01bac5"/>
<rect x="603.20" y="11.25" width="15.77" height="14.94" fill="#01bac5"/>
<rect x="618.47" y="11.25" width="15.77" height="14.94" fill="#01bac5"/>
<rect x="633.74" y="11.25" width="15.77" height="14.94" fill="#01bac5"/>
<rect x="649.01" y="11.25" width="15.77" height="14.94" fill="#01bac5"/>
<rect x="664.28" y="11.25" width="15.77" height="14.94" fill="#0ebdbb"/>
<rect x="374.15" y="25.69" width="15.77" height="14.94" fill="#3e6fff"/>
<rect x="389.42" y="25.69" width="15.77" height="14.94" fill="#3e6fff"/>
<rect x="404.69" y="25.69" width="15.77" height="14.94" fill="#3e6fff"/>
<rect x="419.96" y="25.69" width="15.77" height="14.94" fill="#4537d5"/>
<rect x="435.23" y="25.69" width="15.77" height="14.94" fill="#3e26a8"/>
<rect x="450.50" y="25.69" width="15.77" height="14.94" fill="#3e26a8"/>
<rect x="465.77" y="25.69" width="15.77" height="14.94" fill="#3e26a8"/>
<rect x="481.04" y="25.69" width="15.77" height="14.94" fill="#3e26a8"/>
<rect x="496.31" y="25.69" width="15.77" height="14.94" fill="#3e26a8"/>
<rect x="511.58" y="25.69" width="15.77" height="14.94" fill="#3e26a8"/>
<rect x="526.85" y="25.69" width="15.77" height="14.94" fill="#3e26a8"/>
<rect x="542.12" y="25.69" width="15.77" height="14.94" fill="#3e26a8"/>
<rect x="557.39" y="25.69" width="15.77" height="14.94" fill="#4741e5"/>
<rect x="572.66" y="25.69" width="15.77" height="14.94" fill="#01bac5"/>
<rect x="587.93" y="25.69" width="15.77" height="14.94" fill="#01bac5"/>
<rect x="603.20" y="25.69" width="15.77" height="14.94" fill="#01bac5"/>
<rect x="618.47" y="25.69" width="15.77" height="14.94" fill="#01bac5"/>
<rect x="633.74" y="25.69" width="15.77" height="14.94" fill="#01bac5"/>
<rect x="649.01" y="25.69" width="15.77" height="14.94" fill="#01bac5"/>
<rect x="664.28" y="25.69" width="15.77" height="14.94" fill="#0ebdbb"/>
<rect x="374.15" y="40.13" width="15.77" height="14.94" fill="#3e6fff"/>
<rect x="389.42" y="40.13" width="15.77" height="14.94" fill="#3e6fff"/>
<rect x="404.69" y="40.13" width="15.77" height="14.94" fill="#3e6fff"/>
<rect x="419.96" y="40.13" width="15.77" height="14.94" fill="#422ec0"/>
<rect x="435.23" y="40.13" width="15.77" height="14.94" fill="#3e26a8"/>
<rect x="450.50" y="40.13" width="15.77" height="14.94" fill="#3e26a8"/>
<rect x="465.77" y="40.13" width="15.77" height="14.94" fill="#3e26a8"/>
<rect x="481.04" y="40.13" width="15.77" height="14.94" fill="#3e26a8"/>
<rect x="496.31" y="40.13" width="15.77" height="14.94" fill="#3e26a8"/>
<rect x="511.58" y="40.13" width="15.77" height="14.94" fill="#3e26a8"/>
<rect x="526.85" y="40.13" width="15.77" height="14.94" fill="#3e26a8"/>
<rect x="542.12" y="40.13" width="15.77" height="14.94" fill="#3e26a8"/>
<rect x="557.39" y="40.13" width="15.77" height="14.94" fill="#23a0e5"/>
<rect x="572.66" y="40.13" width="15.77" height="14.94" fill="#01bac5"/>
<rect x="587.93" y="40.13" width="15.77" height="14.94" fill="#01bac5"/>
<rect x="603.20" y="40.13" width="15.77" height="14.94" fill="#01bac5"/>
<rect x="618.47" y="40.13" width="15.77" height="14.94" fill="#01bac5"/>
<rect x="633.74" y="40.13" width="15.77" height="14.94" fill="#01bac5"/>
<rect x="649.01" y="40.13" width="15.77" height="14.94" fill="#0ebdbb"/>
<rect x="664.28" y="40.13" width="15.77" height="14.94" fill="#0ebdbb"/>
<rect x="374.15" y="54.57" width="15.77" height="14.94" fill="#3e6fff"/>
<rect x="389.42" y="54.57" width="15.77" height="14.94" fill="#3e6fff"/>
<rect x="404.69" y="54.57" width="15.77" height="14.94" fill="#4563fd"/>
<rect x="419.96" y="54.57" width="15.77" height="14.94" fill="#3e26a8"/>
<rect x="435.23" y="54.57" width="15.77" height="14.94" fill="#3e26a8"/>
<rect x="450.50" y="54.57" width="15.77" height="14.94" fill="#3e26a8"/>
<rect x="465.77" y="54.57" width="15.77" height="14.94" fill="#3e26a8"/>
<rect x="481.04" y="54.57" width="15.77" height="14.94" fill="#3e26a8"/>
<rect x="496.31" y="54.57" width="15.77" height="14.94" fill="#3e26a8"/>
<rect x="511.58" y="54.57" width="15.77" height="14.94" fill="#3e26a8"/>
<rect x="526.85" y="54.57" width="15.77" height="14.94" fill="#3e26a8"/>
<rect x="542.12" y="54.57" width="15.77" height="14.94" fill="#2e87f7"/>
<rect x="557.39" y="54.57" width="15.77" height="14.94" fill="#01bac5"/>
<rect x="572.66" y="54.57" width="15.77" height="14.94" fill="#01bac5"/>
<rect x="587.93" y="54.57" width="15.77" height="14.94" fill="#01bac5"/>
<rect x="603.20" y="54.57" width="15.77" height="14.94" fill="#01bac5"/>
<rect x="618.47" y="54.57" width="15.77" height="14.94" fill="#01bac5"/>
<rect x="633.74" y="54.57" width="15.77" height="14.94" fill="#0ebdbb"/>
<rect x="649.01" y="54.57" width="15.77" height="14.94" fill="#0ebdbb"/>
<rect x="664.28" y="54.57" width="15.77" height="14.94" fill="#0ebdbb"/>
<rect x="374.15" y="69.01" width="15.77" height="14.94" fill="#3e6fff"/>
<rect x="389.42" y="69.01" width="15.77" height="14.94" fill="#3e6fff"/>
<rect x="404.69" y="69.01" width="15.77" height="14.94" fill="#484df0"/>
<rect x="419.96" y="69.01" width="15.77" height="14.94" fill="#3e26a8"/>
<rect x="435.23" y="69.01" width="15.77" height="14.94" fill="#3e26a8"/>
<rect x="450.50" y="69.01" width="15.77" height="14.94" fill="#3e26a8"/>
<rect x="465.77" y="69.01" width="15.77" height="14.94" fill="#3e26a8"/>
<rect x="481.04" y="69.01" width="15.77" height="14.94" fill="#3e26a8"/>
<rect x="496.31" y="69.01" width="15.77" height="14.94" fill="#3e26a8"/>
<rect x="511.58" y="69.01" width="15.77" height="14.94" fill="#3e26a8"/>
<rect x="526.85" y="69.01" width="15.77" height="14.94" fill="#4563fd"/>
<rect x="542.12" y="69.01" width="15.77" height="14.94" fill="#01bac5"/>
<rect x="557.39" y="69.01" width="15.77" height="14.94" fill="#01bac5"/>
<rect x="572.66" y="69.01" width="15.77" height="14.94" fill="#01bac5"/>
<rect x="587.93" y="69.01" width="15.77" height="14.94" fill="#01bac5"/>
<rect x="603.20" y="69.01" width="15.77" height="14.94" fill="#01bac5"/>
<rect x="618.47" y="69.01" width="15.77" height="14.94" fill="#0ebdbb"/>
<rect x="633.74" y="69.01" width="15.77" height="14.94" fill="#0ebdbb"/>
<rect x="649.01" y="69.01" width="15.77" height="14.94" fill="#0ebdbb"/>
<rect x="664.28" y="69.01" width="15.77" height="14.94" fill="#0ebdbb"/>
<rect x="374.15" y="83.45" width="15.77" height="14.94" fill="#3e6fff"/>
<rect x="389.42" y="83.45" width="15.77" height="14.94" fill="#3e6fff"/>
<rect x="404.69" y="83.45" width="15.77" height="14.94" fill="#4747eb"/>
<rect x="419.96" y="83.45" width="15.77" height="14.94" fill="#3e26a8"/>
<rect x="435.23" y="83.45" width="15.77" height="14.94" fill="#3e26a8"/>
<rect x="450.50" y="83.45" width="15.77" height="14.94" fill="#3e26a8"/>
<rect x="465.77" y="83.45" width="15.77" height="14.94" fill="#3e26a8"/>
<rect x="481.04" y="83.45" width="15.77" height="14.94" fill="#3e26a8"/>
<rect x="496.31" y="83.45" width="15.77" height="14.94" fill="#3e26a8"/>
<rect x="511.58" y="83.45" width="15.77" height="14.94" fill="#4741e5"/>
<rect x="526.85" y="83.45" width="15.77" height="14.94" fill="#18addb"/>
<rect x="542.12" y="83.45" width="15.77" height="14.94" fill="#01bac5"/>
<rect x="557.39" y="83.45" width="15.77" height="14.94" fill="#01bac5"/>
<rect x="572.66" y="83.45" width="15.77" height="14.94" fill="#01bac5"/>
<rect x="587.93" y="83.45" width="15.77" height="14.94" fill="#01bac5"/>
<rect x="603.20" y="83.45" width="15.77" height="14.94" fill="#0ebdbb"/>
<rect x="618.47" y="83.45" width="15.77" height="14.94" fill="#0ebdbb"/>
<rect x="633.74" y="83.45" width="15.77" height="14.94" fill="#0ebdbb"/>
<rect x="649.01" y="83.45" width="15.77" height="14.94" fill="#0ebdbb"/>
<rect x="664.28" y="83.45" width="15.77" height="14.94" fill="#0ebdbb"/>
<rect x="374.15" y="97.89" width="15.77" height="14.94" fill="#3e6fff"/>
<rect x="389.42" y="97.89" width="15.77" height="14.94" fill="#3e6fff"/>
<rect x="404.69" y="97.89" width="15.77" height="14.94" fill="#4537d5"/>
<rect x="419.96" y="97.89" width="15.77" height="14.94" fill="#3e26a8"/>
<rect x="435.23" y="97.89" width="15.77" height="14.94" fill="#3e26a8"/>
<rect x="450.50" y="97.89" width="15.77" height="14.94" fill="#3e26a8"/>
<rect x="465.77" y="97.89" width="15.77" height="14.94" fill="#3e26a8"/>
<rect x="481.04" y="97.89" width="15.77" height="14.94" fill="#3e26a8"/>
<rect x="496.31" y="97.89" width="15.77" height="14.94" fill="#3e26a8"/>
<rect x="511.58" y="97.89" width="15.77" height="14.94" fill="#2e87f7"/>
<rect x="526.85" y="97.89" width="15.77" height="14.94" fill="#01bac5"/>
<rect x="542.12" y="97.89" width="15.77" height="14.94" fill="#01bac5"/>
<rect x="557.39" y="97.89" width="15.77" height="14.94" fill="#01bac5"/>
<rect x="572.66" y="97.89" width="15.77" height="14.94" fill="#01bac5"/>
<rect x="587.93" y="97.89" width="15.77" height="14.94" fill="#0ebdbb"/>
<rect x="603.20" y="97.89" width="15.77" height="14.94" fill="#0ebdbb"/>
<rect x="618.47" y="97.89" width="15.77" height="14.94" fill="#0ebdbb"/>
<rect x="633.74" y="97.89" width="15.77" height="14.94" fill="#0ebdbb"/>
<rect x="649.01" y="97.89" width="15.77" height="14.94" fill="#0ebdbb"/>
<rect x="664.28" y="97.89" width="15.77" height="14.94" fill="#0ebdbb"/>
<rect x="374.15" y="112.33" width="15.77" height="14.94" fill="#3e6fff"/>
<rect x="389.42" y="112.33" width="15.77" height="14.94" fill="#4269fe"/>
<rect x="404.69" y="112.33" width="15.77" height="14.94" fill="#422ec0"/>
<rect x="419.96" y="112.33" width="15.77" height="14.94" fill="#3e26a8"/>
<rect x="435.23" y="112.33" width="15.77" height="14.94" fill="#3e26a8"/>
<rect x="450.50" y="112.33" width="15.77" height="14.94" fill="#3e26a8"/>
<rect x="465.77" y="112.33" width="15.77" height="14.94" fill="#3e26a8"/>
<rect x="481.04" y="112.33" width="15.77" height="14.94" fill="#3e26a8"/>
<rect x="496.31" y="112.33" width="15.77" height="14.94" fill="#4563fd"/>
<rect x="511.58" y="112.33" width="15.77" height="14.94" fill="#01bac5"/>
<rect x="526.85" y="112.33" width="15.77" height="14.94" fill="#01bac5"/>
<rect x="542.12" y="112.33" width="15.77" height="14.94" fill="#01bac5"/>
<rect x="557.39" y="112.33" width="15.77" height="14.94" fill="#01bac5"/>
<rect x="572.66" y="112.33" width="15.77" height="14.94" fill="#0ebdbb"/>
<rect x="587.93" y="112.33" width="15.77" height="14.94" fill="#0ebdbb"/>
<rect x="603.20" y="112.33" width="15.77" height="14.94" fill="#0ebdbb"/>
<rect x="618.47" y="112.33" width="15.77" height="14.94" fill="#0ebdbb"/>
<rect x="633.74" y="112.33" width="15.77" height="14.94" fill="#0ebdbb"/>
<rect x="649.01" y="112.33" width="15.77" height="14.94" fill="#0ebdbb"/>
<rect x="664.28" y="112.33" width="15.77" height="14.94" fill="#0ebdbb"/>
<rect x="374.15" y="126.77" width="15.77" height="14.94" fill="#3e6fff"/>
<rect x="389.42" y="126.77" width="15.77" height="14.94" fill="#4563fd"/>
<rect x="404.69" y="126.77" width="15.77" height="14.94" fill="#3e26a8"/>
<rect x="419.96" y="126.77" width="15.77" height="14.94" fill="#3e26a8"/>
<rect x="435.23" y="126.77" width="15.77" height="14.94" fill="#3e26a8"/>
<rect x="450.50" y="126.77" width="15.77" height="14.94" fill="#3e26a8"/>
<rect x="465.77" y="126.77" width="15.77" height="14.94" fill="#3e26a8"/>
<rect x="481.04" y="126.77" width="15.77" height="14.94" fill="#4741e5"/>
<rect x="496.31" y="126.77" width="15.77" height="14.94" fill="#12b1d6"/>
<rect x="511.58" y="126.77" width="15.77" height="14.94" fill="#01bac5"/>
<rect x="526.85" y="126.77" width="15.77" height="14.94" fill="#01bac5"/>
<rect x="542.12" y="126.77" width="15.77" height="14.94" fill="#01bac5"/>
<rect x="557.39" y="126.77" width="15.77" height="14.94" fill="#01bac5"/>
<rect x="572.66" y="126.77" width="15.77" height="14.94" fill="#0ebdbb"/>
<rect x="587.93" y="126.77" width="15.77" height="14.94" fill="#0ebdbb"/>
<rect x="603.20" y="126.77" width="15.77" height="14.94" fill="#0ebdbb"/>
<rect x="618.47" y="126.77" width="15.77" height="14.94" fill="#0ebdbb"/>
<rect x="633.74" y="126.77" width="15.77" height="14.94" fill="#0ebdbb"/>
<rect x="649.01" y="126.77" width="15.77" height="14.94" fill="#0ebdbb"/>
<rect x="664.28" y="126.77" width="15.77" height="14.94" fill="#0ebdbb"/>
<rect x="374.15" y="141.21" width="15.77" height="14.94" fill="#3e6fff"/>
<rect x="389.42" y="141.21" width="15.77" height="14.94" fill="#4852f4"/>
<rect x="404.69" y="141.21" width="15.77" height="14.94" fill="#3e26a8"/>
<rect x="419.96" y="141.21" width="15.77" height="14.94" fill="#3e26a8"/>
<rect x="435.23" y="141.21" width="15.77" height="14.94" fill="#3e26a8"/>
<rect x="450.50" y="141.21" width="15.77" height="14.94" fill="#3e26a8"/>
<rect x="465.77" y="141.21" width="15.77" height="14.94" fill="#3e26a8"/>
<rect x="481.04" y="141.21" width="15.77" height="14.94" fill="#259be8"/>
<rect x="496.31" y="141.21" width="15.77" height="14.94" fill="#01bac5"/>
<rect x="511.58" y="141.21" width="15.77" height="14.94" fill="#01bac5"/>
<rect x="526.85" y="141.21" width="15.77" height="14.94" fill="#01bac5"/>
<rect x="542.12" y="141.21" width="15.77" height="14.94" fill="#01bac5"/>
<rect x="557.39" y="141.21" width="15.77" height="14.94" fill="#0ebdbb"/>
<rect x="572.66" y="141.21" width="15.77" height="14.94" fill="#0ebdbb"/>
<rect x="587.93" y="141.21" width="15.77" height="14.94" fill="#0ebdbb"/>
<rect x="603.20" y="141.21" width="15.77" height="14.94" fill="#0ebdbb"/>
<rect x="618.47" y="141.21" width="15.77" height="14.94" fill="#0ebdbb"/>
<rect x="633.74" y="141.21" width="15.77" height="14.94" fill="#0ebdbb"/>
<rect x="649.01" y="141.21" width="15.77" height="14.94" fill="#0ebdbb"/>
<rect x="664.28" y="141.21" width="15.77" height="14.94" fill="#0ebdbb"/>
<rect x="374.15" y="155.65" width="15.77" height="14.94" fill="#3e6fff"/>
<rect x="389.42" y="155.65" width="15.77" height="14.94" fill="#4747eb"/>
<rect x="404.69" y="155.65" width="15.77" height="14.94" fill="#3e26a8"/>
<rect x="419.96" y="155.65" width="15.77" height="14.94" fill="#3e26a8"/>
<rect x="435.23" y="155.65" width="15.77" height="14.94" fill="#3e26a8"/>
<rect x="450.50" y="155.65" width="15.77" height="14.94" fill="#3e26a8"/>
<rect x="465.77" y="155.65" width="15.77" height="14.94" fill="#3e6fff"/>
<rect x="481.04" y="155.65" width="15.77" height="14.94" fill="#01bac5"/>
<rect x="496.31" y="155.65" width="15.77" height="14.94" fill="#01bac5"/>
<rect x="511.58" y="155.65" width="15.77" height="14.94" fill="#01bac5"/>
<rect x="526.85" y="155.65" width="15.77" height="14.94" fill="#01bac5"/>
<rect x="542.12" y="155.65" width="15.77" height="14.94" fill="#0ebdbb"/>
<rect x="557.39" y="155.65" width="15.77" height="14.94" fill="#0ebdbb"/>
<rect x="572.66" y="155.65" width="15.77" height="14.94" fill="#0ebdbb"/>
<rect x="587.93" y="155.65" width="15.77" height="14.94" fill="#0ebdbb"/>
<rect x="603.20" y="155.65" width="15.77" height="14.94" fill="#0ebdbb"/>
<rect x="618.47" y="155.65" width="15.77" height="14.94" fill="#0ebdbb"/>
<rect x="633.74" y="155.65" width="15.77" height="14.94" fill="#0ebdbb"/>
<rect x="649.01" y="155.65" width="15.77" height="14.94" fill="#0ebdbb"/>
<rect x="664.28" y="155.65" width="15.77" height="14.94" fill="#0ebdbb"/>
<rect x="374.15" y="170.09" width="15.77" height="14.94" fill="#3e6fff"/>
<rect x="389.42" y="170.09" width="15.77" height="14.94" fill="#4747eb"/>
<rect x="404.69" y="170.09" width="15.77" height="14.94" fill="#3e26a8"/>
<rect x="419.96" y="170.09" width="15.77" height="14.94" fill="#3e26a8"/>
<rect x="435.23" y="170.09" width="15.77" height="14.94" fill="#3e26a8"/>
<rect x="450.50" y="170.09" width="15.77" height="14.94" fill="#4741e5"/>
<rect x="465.77" y="170.09" width="15.77" height="14.94" fill="#04b6cd"/>
<rect x="481.04" y="170.09" width="15.77" height="14.94" fill="#01bac5"/>
<rect x="496.31" y="170.09" width="15.77" height="14.94" fill="#01bac5"/>
<rect x="511.58" y="170.09" width="15.77" height="14.94" fill="#01bac5"/>
<rect x="526.85" y="170.09" width="15.77" height="14.94" fill="#0ebdbb"/>
<rect x="542.12" y="170.09" width="15.77" height="14.94" fill="#0ebdbb"/>
<rect x="557.39" y="170.09" width="15.77" height="14.94" fill="#0ebdbb"/>
<rect x="572.66" y="170.09" width="15.77" height="14.94" fill="#0ebdbb"/>
<rect x="587.93" y="170.09" width="15.77" height="14.94" fill="#0ebdbb"/>
<rect x="603.20" y="170.09" width="15.77" height="14.94" fill="#0ebdbb"/>
<rect x="618.47" y="170.09" width="15.77" height="14.94" fill="#0ebdbb"/>
<rect x="633.74" y="170.09" width="15.77" height="14.94" fill="#0ebdbb"/>
<rect x="649.01" y="170.09" width="15.77" height="14.94" fill="#0ebdbb"/>
<rect x="664.28" y="170.09" width="15.77" height="14.94" fill="#0ebdbb"/>
<rect x="374.15" y="184.53" width="15.77" height="14.94" fill="#3e6fff"/>
<rect x="389.42" y="184.53" width="15.77" height="14.94" fill="#4741e5"/>
<rect x="404.69" y="184.53" width="15.77" height="14.94" fill="#3e26a8"/>
<rect x="419.96" y="184.53" width="15.77" height="14.94" fill="#3e26a8"/>
<rect x="435.23" y="184.53" width="15.77" height="14.94" fill="#4741e5"/>
<rect x="450.50" y="184.53" width="15.77" height="14.94" fill="#23a0e5"/>
<rect x="465.77" y="184.53" width="15.77" height="14.94" fill="#01bac5"/>
<rect x="481.04" y="184.53" width="15.77" height="14.94" fill="#01bac5"/>
<rect x="496.31" y="184.53" width="15.77" height="14.94" fill="#01bac5"/>
<rect x="511.58" y="184.53" width="15.77" height="14.94" fill="#0ebdbb"/>
<rect x="526.85" y="184.53" width="15.77" height="14.94" fill="#0ebdbb"/>
<rect x="542.12" y="184.53" width="15.77" height="14.94" fill="#0ebdbb"/>
<rect x="557.39" y="184.53" width="15.77" height="14.94" fill="#0ebdbb"/>
<rect x="572.66" y="184.53" width="15.77" height="14.94" fill="#0ebdbb"/>
<rect x="587.93" y="184.53" width="15.77" height="14.94" fill="#0ebdbb"/>
<rect x="603.20" y="184.53" width="15.77" height="14.94" fill="#0ebdbb"/>
<rect x="618.47" y="184.53" width="15.77" height="14.94" fill="#0ebdbb"/>
<rect x="633.74" y="184.53" width="15.77" height="14.94" fill="#0ebdbb"/>
<rect x="649.01" y="184.53" width="15.77" height="14.94" fill="#0ebdbb"/>
<rect x="664.28" y="184.53" width="15.77" height="14.94" fill="#0ebdbb"/>
<rect x="374.15" y="198.97" width="15.77" height="14.94" fill="#3e6fff"/>
<rect x="389.42" y="198.97" width="15.77" height="14.94" fill="#4537d5"/>
<rect x="404.69" y="198.97" width="15.77" height="14.94" fill="#3e26a8"/>
<rect x="419.96" y="198.97" width="15.77" height="14.94" fill="#3e26a8"/>
<rect x="435.23" y="198.97" width="15.77" height="14.94" fill="#23a0e5"/>
<rect x="450.50" y="198.97" width="15.77" height="14.94" fill="#01bac5"/>
<rect x="465.77" y="198.97" width="15.77" height="14.94" fill="#01bac5"/>
<rect x="481.04" y="198.97" width="15.77" height="14.94" fill="#01bac5"/>
<rect x="496.31" y="198.97" width="15.77" height="14.94" fill="#0ebdbb"/>
<rect x="511.58" y="198.97" width="15.77" height="14.94" fill="#0ebdbb"/>
<rect x="526.85" y="198.97" width="15.77" height="14.94" fill="#0ebdbb"/>
<rect x="542.12" y="198.97" width="15.77" height="14.94" fill="#0ebdbb"/>
<rect x="557.39" y="198.97" width="15.77" height="14.94" fill="#0ebdbb"/>
<rect x="572.66" y="198.97" width="15.77" height="14.94" fill="#0ebdbb"/>
<rect x="587.93" y="198.97" width="15.77" height="14.94" fill="#0ebdbb"/>
<rect x="603.20" y="198.97" width="15.77" height="14.94" fill="#0ebdbb"/>
<rect x="618.47" y="198.97" width="15.77" height="14.94" fill="#0ebdbb"/>
<rect x="633.74" y="198.97" width="15.77" height="14.94" fill="#0ebdbb"/>
<rect x="649.01" y="198.97" width="15.77" height="14.94" fill="#0ebdbb"/>
<rect x="664.28" y="198.97" width="15.77" height="14.94" fill="#0ebdbb"/>
<rect x="374.15" y="213.41" width="15.77" height="14.94" fill="#3e6fff"/>
<rect x="389.42" y="213.41" width="15.77" height="14.94" fill="#402ab4"/>
<rect x="404.69" y="213.41" width="15.77" height="14.94" fill="#3e26a8"/>
<rect x="419.96" y="213.41" width="15.77" height="14.94" fill="#3e6fff"/>
<rect x="435.23" y="213.41" width="15.77" height="14.94" fill="#01bac5"/>
<rect x="450.50" y="213.41" width="15.77" height="14.94" fill="#01bac5"/>
<rect x="465.77" y="213.41" width="15.77" height="14.94" fill="#01bac5"/>
<rect x="481.04" y="213.41" width="15.77" height="14.94" fill="#01bac5"/>
<rect x="496.31" y="213.41" width="15.77" height="14.94" fill="#0ebdbb"/>
<rect x="511.58" y="213.41" width="15.77" height="14.94" fill="#0ebdbb"/>
<rect x="526.85" y="213.41" width="15.77" height="14.94" fill="#0ebdbb"/>
<rect x="542.12" y="213.41" width="15.77" height="14.94" fill="#0ebdbb"/>
<rect x="557.39" y="213.41" width="15.77" height="14.94" fill="#0ebdbb"/>
<rect x="572.66" y="213.41" width="15.77" height="14.94" fill="#0ebdbb"/>
<rect x="587.93" y="213.41" width="15.77" height="14.94" fill="#0ebdbb"/>
<rect x="603.20" y="213.41" width="15.77" height="14.94" fill="#0ebdbb"/>
<rect x="618.47" y="213.41" width="15.77" height="14.94" fill="#0ebdbb"/>
<rect x="633.74" y="213.41" width="15.77" height="14.94" fill="#0ebdbb"/>
<rect x="649.01" y="213.41" width="15.77" height="14.94" fill="#0ebdbb"/>
<rect x="664.28" y="213.41" width="15.77" height="14.94" fill="#0ebdbb"/>
<rect x="374.15" y="227.85" width="15.77" height="14.94" fill="#4269fe"/>
<rect x="389.42" y="227.85" width="15.77" height="14.94" fill="#3e26a8"/>
<rect x="404.69" y="227.85" width="15.77" height="14.94" fill="#4741e5"/>
<rect x="419.96" y="227.85" width="15.77" height="14.94" fill="#12b1d6"/>
<rect x="435.23" y="227.85" width="15.77" height="14.94" fill="#01bac5"/>
<rect x="450.50" y="227.85" width="15.77" height="14.94" fill="#01bac5"/>
<rect x="465.77" y="227.85" width="15.77" height="14.94" fill="#01bac5"/>
<rect x="481.04" y="227.85" width="15.77" height="14.94" fill="#0ebdbb"/>
<rect x="496.31" y="227.85" width="15.77" height="14.94" fill="#0ebdbb"/>
<rect x="511.58" y="227.85" width="15.77" height="14.94" fill="#0ebdbb"/>
<rect x="526.85" y="227.85" width="15.77" height="14.94" fill="#0ebdbb"/>
<rect x="542.12" y="227.85" width="15.77" height="14.94" fill="#0ebdbb"/>
<rect x="557.39" y="227.85" width="15.77" height="14.94" fill="#0ebdbb"/>
<rect x="572.66" y="227.85" width="15.77" height="14.94" fill="#0ebdbb"/>
<rect x="587.93" y="227.85" width="15.77" height="14.94" fill="#0ebdbb"/>
<rect x="603.20" y="227.85" width="15.77" height="14.94" fill="#0ebdbb"/>
<rect x="618.47" y="227.85" width="15.77" height="14.94" fill="#0ebdbb"/>
<rect x="633.74" y="227.85" width="15.77" height="14.94" fill="#0ebdbb"/>
<rect x="649.01" y="227.85" width="15.77" height="14.94" fill="#0ebdbb"/>
<rect x="664.28" y="227.85" width="15.77" height="14.94" fill="#0ebdbb"/>
<rect x="374.15" y="242.29" width="15.77" height="14.94" fill="#4741e5"/>
<rect x="389.42" y="242.29" width="15.77" height="14.94" fill="#422ec0"/>
<rect x="404.69" y="242.29" width="15.77" height="14.94" fill="#23a0e5"/>
<rect x="419.96" y="242.29" width="15.77" height="14.94" fill="#01bac5"/>
<rect x="435.23" y="242.29" width="15.77" height="14.94" fill="#01bac5"/>
<rect x="450.50" y="242.29" width="15.77" height="14.94" fill="#01bac5"/>
<rect x="465.77" y="242.29" width="15.77" height="14.94" fill="#0bbdbd"/>
<rect x="481.04" y="242.29" width="15.77" height="14.94" fill="#0bbdbd"/>
<rect x="496.31" y="242.29" width="15.77" height="14.94" fill="#0bbdbd"/>
<rect x="511.58" y="242.29" width="15.77" height="14.94" fill="#0bbdbd"/>
<rect x="526.85" y="242.29" width="15.77" height="14.94" fill="#0bbdbd"/>
<rect x="542.12" y="242.29" width="15.77" height="14.94" fill="#0bbdbd"/>
<rect x="557.39" y="242.29" width="15.77" height="14.94" fill="#0ebdbb"/>
<rect x="572.66" y="242.29" width="15.77" height="14.94" fill="#0ebdbb"/>
<rect x="587.93" y="242.29" width="15.77" height="14.94" fill="#10beba"/>
<rect x="603.20" y="242.29" width="15.77" height="14.94" fill="#13beb8"/>
<rect x="618.47" y="242.29" width="15.77" height="14.94" fill="#16bfb7"/>
<rect x="633.74" y="242.29" width="15.77" height="14.94" fill="#24c1ae"/>
<rect x="649.01" y="242.29" width="15.77" height="14.94" fill="#24c1ae"/>
<rect x="664.28" y="242.29" width="15.77" height="14.94" fill="#24c1ae"/>
<rect x="374.15" y="256.73" width="15.77" height="14.94" fill="#4741e5"/>
<rect x="389.42" y="256.73" width="15.77" height="14.94" fill="#2e87f7"/>
<rect x="404.69" y="256.73" width="15.77" height="14.94" fill="#01b8c9"/>
<rect x="419.96" y="256.73" width="15.77" height="14.94" fill="#02bac3"/>
<rect x="435.23" y="256.73" width="15.77" height="14.94" fill="#06bcc0"/>
<rect x="450.50" y="256.73" width="15.77" height="14.94" fill="#0bbdbd"/>
<rect x="465.77" y="256.73" width="15.77" height="14.94" fill="#0ebdbb"/>
<rect x="481.04" y="256.73" width="15.77" height="14.94" fill="#10beba"/>
<rect x="496.31" y="256.73" width="15.77" height="14.94" fill="#13beb8"/>
<rect x="511.58" y="256.73" width="15.77" height="14.94" fill="#16bfb7"/>
<rect x="526.85" y="256.73" width="15.77" height="14.94" fill="#19bfb6"/>
<rect x="542.12" y="256.73" width="15.77" height="14.94" fill="#1bc0b4"/>
<rect x="557.39" y="256.73" width="15.77" height="14.94" fill="#1dc0b3"/>
<rect x="572.66" y="256.73" width="15.77" height="14.94" fill="#1fc1b1"/>
<rect x="587.93" y="256.73" width="15.77" height="14.94" fill="#22c1b0"/>
<rect x="603.20" y="256.73" width="15.77" height="14.94" fill="#24c1ae"/>
<rect x="618.47" y="256.73" width="15.77" height="14.94" fill="#25c2ad"/>
<rect x="633.74" y="256.73" width="15.77" height="14.94" fill="#27c2ac"/>
<rect x="649.01" y="256.73" width="15.77" height="14.94" fill="#28c2ab"/>
<rect x="664.28" y="256.73" width="15.77" height="14.94" fill="#28c2ab"/>
<rect x="374.15" y="271.17" width="15.77" height="14.94" fill="#3e6fff"/>
<rect x="389.42" y="271.17" width="15.77" height="14.94" fill="#23a0e5"/>
<rect x="404.69" y="271.17" width="15.77" height="14.94" fill="#18addb"/>
<rect x="419.96" y="271.17" width="15.77" height="14.94" fill="#01b8ca"/>
<rect x="435.23" y="271.17" width="15.77" height="14.94" fill="#31c69f"/>
<rect x="450.50" y="271.17" width="15.77" height="14.94" fill="#4acb84"/>
<rect x="465.77" y="271.17" width="15.77" height="14.94" fill="#8fcb4e"/>
<rect x="481.04" y="271.17" width="15.77" height="14.94" fill="#d1bf27"/>
<rect x="496.31" y="271.17" width="15.77" height="14.94" fill="#febe3c"/>
<rect x="511.58" y="271.17" width="15.77" height="14.94" fill="#fad62d"/>
<rect x="526.85" y="271.17" width="15.77" height="14.94" fill="#f5e924"/>
<rect x="542.12" y="271.17" width="15.77" height="14.94" fill="#f9fb15"/>
<rect x="557.39" y="271.17" width="15.77" height="14.94" fill="#f9fb15"/>
<rect x="572.66" y="271.17" width="15.77" height="14.94" fill="#f9fb15"/>
<rect x="587.93" y="271.17" width="15.77" height="14.94" fill="#f7f51b"/>
<rect x="603.20" y="271.17" width="15.77" height="14.94" fill="#f6ef20"/>
<rect x="618.47" y="271.17" width="15.77" height="14.94" fill="#f5e924"/>
<rect x="633.74" y="271.17" width="15.77" height="14.94" fill="#f5e327"/>
<rect x="649.01" y="271.17" width="15.77" height="14.94" fill="#f7dc2a"/>
<rect x="664.28" y="271.17" width="15.77" height="14.94" fill="#fad62d"/>
<rect x="374.15" y="285.61" width="15.77" height="14.94" fill="#3e6fff"/>
<rect x="389.42" y="285.61" width="15.77" height="14.94" fill="#4741e5"/>
<rect x="404.69" y="285.61" width="15.77" height="14.94" fill="#2d8cf3"/>
<rect x="419.96" y="285.61" width="15.77" height="14.94" fill="#24c1ae"/>
<rect x="435.23" y="285.61" width="15.77" height="14.94" fill="#57cc7a"/>
<rect x="450.50" y="285.61" width="15.77" height="14.94" fill="#dcbd29"/>
<rect x="465.77" y="285.61" width="15.77" height="14.94" fill="#f8ba3d"/>
<rect x="481.04" y="285.61" width="15.77" height="14.94" fill="#febe3c"/>
<rect x="496.31" y="285.61" width="15.77" height="14.94" fill="#f0ba36"/>
<rect x="511.58" y="285.61" width="15.77" height="14.94" fill="#e6bb2d"/>
<rect x="526.85" y="285.61" width="15.77" height="14.94" fill="#d1bf27"/>
<rect x="542.12" y="285.61" width="15.77" height="14.94" fill="#c5c22a"/>
<rect x="557.39" y="285.61" width="15.77" height="14.94" fill="#b9c431"/>
<rect x="572.66" y="285.61" width="15.77" height="14.94" fill="#abc739"/>
<rect x="587.93" y="285.61" width="15.77" height="14.94" fill="#9dc943"/>
<rect x="603.20" y="285.61" width="15.77" height="14.94" fill="#8fcb4e"/>
<rect x="618.47" y="285.61" width="15.77" height="14.94" fill="#88cb53"/>
<rect x="633.74" y="285.61" width="15.77" height="14.94" fill="#81cc59"/>
<rect x="649.01" y="285.61" width="15.77" height="14.94" fill="#79cc5e"/>
<rect x="664.28" y="285.61" width="15.77" height="14.94" fill="#72cd64"/>
</g>
<path d="M389.67 11.50V300.30M404.94 11.50V300.30M420.21 11.50V300.30M435.48 11.50V300.30M450.75 11.50V300.30M466.02 11.50V300.30M481.29 11.50V300.30M496.56 11.50V300.30M511.83 11.50V300.30M527.10 11.50V300.30M542.37 11.50V300.30M557.64 11.50V300.30M572.91 11.50V300.30M588.18 11.50V300.30M603.45 11.50V300.30M618.72 11.50V300.30M633.99 11.50V300.30M649.26 11.50V300.30M664.53 11.50V300.30" stroke="#000" stroke-opacity="0.48" stroke-width="1.0" fill="none"/>
<path d="M374.40 25.94H679.80M374.40 40.38H679.80M374.40 54.82H679.80M374.40 69.26H679.80M374.40 83.70H679.80M374.40 98.14H679.80M374.40 112.58H679.80M374.40 127.02H679.80M374.40 141.46H679.80M374.40 155.90H679.80M374.40 170.34H679.80M374.40 184.78H679.80M374.40 199.22H679.80M374.40 213.66H679.80M374.40 228.10H679.80M374.40 242.54H679.80M374.40 256.98H679.80M374.40 271.42H679.80M374.40 285.86H679.80" stroke="#000" stroke-opacity="0.55" stroke-width="1.0" fill="none"/>
<path d="M374.40 300.30V11.50H679.80V300.30" stroke="#9a9a9a" stroke-width="0.7" fill="none"/>
<path d="M374.40 300.30H679.80" stroke="#111" stroke-width="0.8" fill="none" stroke-opacity="0.65"/>
<polygon points="378.62,286.84 403.09,255.19 583.76,13.45 578.55,9.55 397.88,251.30 374.46,283.73" fill="#fb0007"/>
<circle cx="581.16" cy="11.50" r="3.25" fill="#fb0007"/>
<circle cx="374.20" cy="300.60" r="2.3" fill="none" stroke="#f0101a" stroke-width="1.1"/>
<text transform="translate(370.20 304.70) scale(0.94 1.08)" font-size="9.4" text-anchor="end">0</text>
<text transform="translate(370.20 275.73) scale(0.94 1.08)" font-size="9.4" text-anchor="end">1</text>
<text transform="translate(370.20 246.76) scale(0.94 1.08)" font-size="9.4" text-anchor="end">2</text>
<text transform="translate(370.20 217.79) scale(0.94 1.08)" font-size="9.4" text-anchor="end">3</text>
<text transform="translate(370.20 188.82) scale(0.94 1.08)" font-size="9.4" text-anchor="end">4</text>
<text transform="translate(370.20 159.85) scale(0.94 1.08)" font-size="9.4" text-anchor="end">5</text>
<text transform="translate(370.20 130.88) scale(0.94 1.08)" font-size="9.4" text-anchor="end">6</text>
<text transform="translate(370.20 101.91) scale(0.94 1.08)" font-size="9.4" text-anchor="end">7</text>
<text transform="translate(370.20 72.94) scale(0.94 1.08)" font-size="9.4" text-anchor="end">8</text>
<text transform="translate(370.20 43.97) scale(0.94 1.08)" font-size="9.4" text-anchor="end">9</text>
<text transform="translate(370.20 15.00) scale(0.94 1.08)" font-size="9.4" text-anchor="end">10</text>
<text transform="translate(374.00 314.2) scale(0.94 1.08)" font-size="9.4" text-anchor="middle">0</text>
<text transform="translate(435.08 314.2) scale(0.94 1.08)" font-size="9.4" text-anchor="middle">2</text>
<text transform="translate(496.16 314.2) scale(0.94 1.08)" font-size="9.4" text-anchor="middle">4</text>
<text transform="translate(557.24 314.2) scale(0.94 1.08)" font-size="9.4" text-anchor="middle">6</text>
<text transform="translate(618.32 314.2) scale(0.94 1.08)" font-size="9.4" text-anchor="middle">8</text>
<text transform="translate(679.40 314.2) scale(0.94 1.08)" font-size="9.4" text-anchor="middle">10</text>
<text x="526.60" y="327.9" font-size="10.4" text-anchor="middle">Xylose Uptake</text>
<text transform="translate(355.80 155.40) rotate(-90)" font-size="10.4" text-anchor="middle">Oxygen Uptake</text>
<text x="527.80" y="8.1" font-size="9.9" letter-spacing="0.1" text-anchor="middle">iDH814</text>
<text x="1.4" y="8.9" font-size="13.4" style="stroke-width:0.5px">a</text>
<text x="343.4" y="12" font-size="13.4" style="stroke-width:0.5px">b</text>
</svg></body></html>
